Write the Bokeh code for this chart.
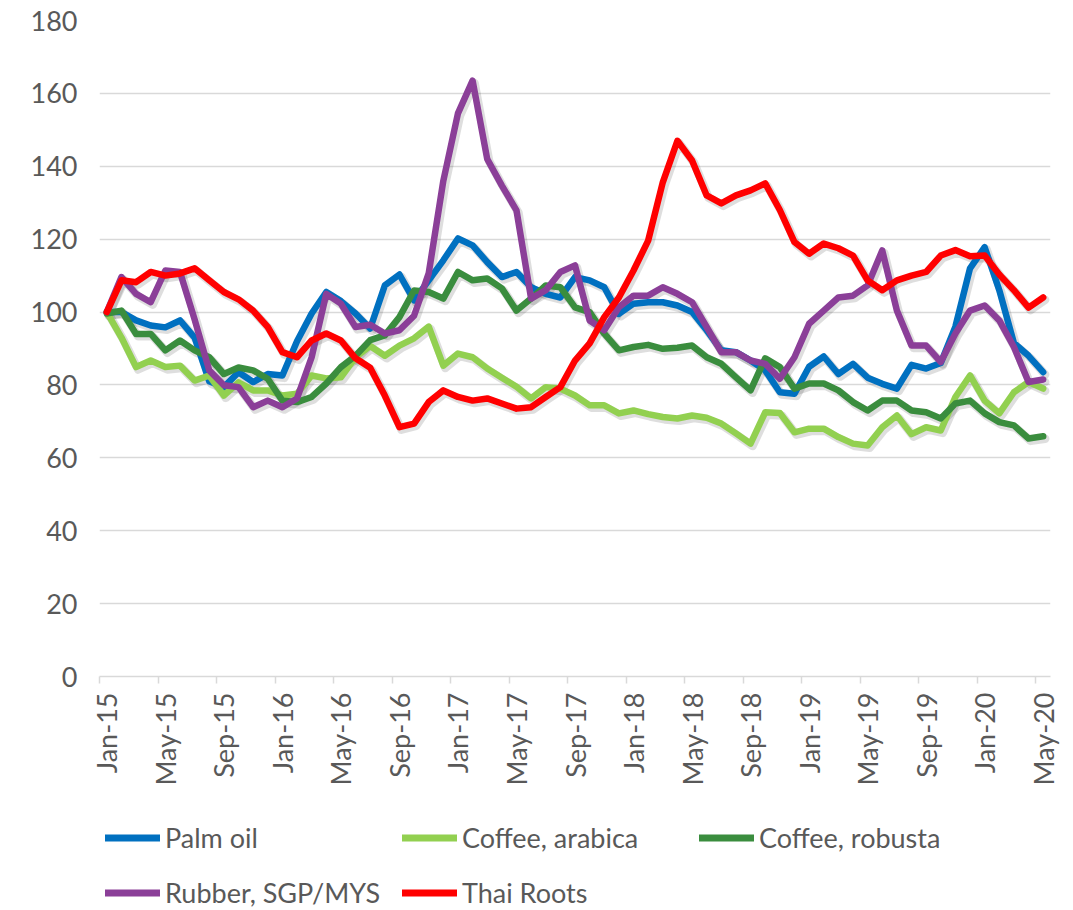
import math
from bokeh.plotting import figure
from bokeh.layouts import column
from bokeh.models import Range1d, FixedTicker, Legend, LegendItem, ColumnDataSource
from bokeh.embed import file_html
from bokeh.resources import INLINE

# ---- data (monthly index, Jan-15 .. May-20) ----
tick_labels = ["Jan-15", "May-15", "Sep-15", "Jan-16", "May-16", "Sep-16", "Jan-17", "May-17",
               "Sep-17", "Jan-18", "May-18", "Sep-18", "Jan-19", "May-19", "Sep-19", "Jan-20", "May-20"]
y_ticks = [0, 20, 40, 60, 80, 100, 120, 140, 160, 180]

palm_oil = [100, 100, 97.7, 96.3, 95.8, 97.7, 93, 81, 79.4, 83.5,
            80.8, 83, 82.6, 92, 99.6, 105.5, 103, 99.6, 95.5, 107.3,
            110.3, 103.2, 108.7, 114.2, 120.2, 118.3, 113.7, 109.6, 111, 106.8,
            105, 104, 109.6, 108.7, 106.8, 99.5, 102.3, 102.7, 102.7, 101.8,
            100, 95, 89.5, 89, 86.7, 84, 78, 77.6, 85, 87.8,
            83, 85.8, 82, 80.3, 79, 85.5, 84.5, 86, 96, 112,
            117.8, 106, 91.5, 88, 83.5]
coffee_arabica = [100, 93, 84.9, 86.7, 84.9, 85.3, 81.2, 82.6, 77.1, 80.7,
                  78.5, 78.5, 77.1, 77.6, 82.6, 81.8, 82.1, 87.6, 90.7, 88,
                  90.8, 92.8, 96, 85.3, 88.6, 87.6, 84.5, 82, 79.5, 76.3,
                  79.4, 79, 77.1, 74.4, 74.4, 72.2, 73, 72, 71.2, 70.8,
                  71.6, 71, 69.4, 66.7, 63.9, 72.5, 72.3, 67, 68, 68,
                  65.7, 63.9, 63.4, 68.4, 71.6, 66.5, 68.4, 67.5, 76.7, 82.6,
                  75.7, 72.2, 78, 80.8, 79]
coffee_robusta = [99.6, 100.4, 94, 94, 89.5, 92.2, 89.5, 87.6, 83, 84.8,
                  84, 81.7, 75.7, 75.3, 76.7, 80.4, 84.9, 88, 92.3, 93.6,
                  98.6, 105.9, 105.5, 103.7, 111, 108.7, 109.2, 106.5, 100.4, 103.7,
                  107.3, 106.8, 101.3, 100, 94.1, 89.5, 90.4, 91, 89.9, 90.2,
                  90.8, 87.6, 85.8, 82.1, 78.5, 87.3, 84.9, 79, 80.4, 80.4,
                  78.5, 75.3, 73, 75.7, 75.7, 73, 72.5, 70.8, 74.9, 75.7,
                  72.2, 69.8, 68.9, 65.3, 65.9]
rubber = [100, 109.6, 105, 102.7, 111.4, 111, 98, 84, 79.9, 79.4,
          73.9, 75.7, 73.9, 76.3, 87.6, 105, 102.3, 95.9, 96.5, 94.1,
          95, 99, 110.6, 136, 154.5, 163.5, 142, 134.7, 127.9, 103.7,
          106, 111, 112.8, 97.7, 95, 101.3, 104.5, 104.5, 106.8, 105,
          102.7, 95.9, 89, 89, 86.7, 85.8, 81.7, 87.6, 96.8, 100.4,
          104, 104.5, 107.3, 116.9, 100.4, 90.8, 90.8, 86.3, 94.1, 100.4,
          101.8, 97.7, 90.4, 80.8, 81.5]
thai_roots = [100, 108.7, 108.2, 111, 110, 110.6, 112, 108.7, 105.5, 103.5,
              100.4, 95.9, 89, 87.6, 92.2, 94.1, 92.2, 87.3, 84.7, 77.1,
              68.4, 69.4, 75.3, 78.5, 76.7, 75.7, 76.3, 74.9, 73.5, 73.9,
              76.7, 79.4, 86.7, 91.4, 98.6, 104, 111.4, 119.6, 135.6, 147,
              141.6, 132, 129.8, 132, 133.4, 135.3, 128, 119.2, 116, 118.8,
              117.5, 115.5, 108.7, 106, 108.7, 110, 111, 115.5, 117, 115.3,
              115.5, 110.3, 106, 101.2, 104]

series_names = ["Palm oil", "Coffee, arabica", "Coffee, robusta", "Rubber, SGP/MYS", "Thai Roots"]
series_values = [palm_oil, coffee_arabica, coffee_robusta, rubber, thai_roots]
series_colors = ["#0070C0", "#92D050", "#3A8D3E", "#8B3F98", "#FF0000"]

n = len(palm_oil)
x = list(range(n))
tick_pos = list(range(0, n, 4))
boundary_ticks = [t - 0.5 for t in tick_pos]

FONT = "Lato"
TXT = "#595959"
GRID = "#D9D9D9"
FS = "27px"

p = figure(width=1073, height=806, output_backend="svg", toolbar_location=None,
           x_range=Range1d(-0.5, n - 0.5), y_range=Range1d(0, 180),
           min_border_left=99, min_border_right=23, min_border_top=20, min_border_bottom=130)
p.outline_line_color = None
p.background_fill_color = "white"
p.border_fill_color = "white"

p.xgrid.visible = False
p.ygrid.grid_line_color = GRID
p.ygrid.grid_line_width = 1.5

p.yaxis.ticker = FixedTicker(ticks=y_ticks)
p.yaxis.axis_line_color = None
p.yaxis.major_tick_line_color = None
p.yaxis.minor_tick_line_color = None
p.yaxis.major_label_standoff = 16
p.yaxis.major_label_text_font = FONT
p.yaxis.major_label_text_font_size = FS
p.yaxis.major_label_text_color = TXT

p.xaxis.ticker = FixedTicker(ticks=tick_pos, minor_ticks=boundary_ticks)
p.xaxis.major_label_overrides = {t: lab for t, lab in zip(tick_pos, tick_labels)}
p.xaxis.major_label_orientation = math.pi / 2
p.xaxis.axis_line_color = GRID
p.xaxis.axis_line_width = 1.5
p.xaxis.major_tick_line_color = None
p.xaxis.major_tick_out = 0
p.xaxis.major_tick_in = 0
p.xaxis.minor_tick_line_color = GRID
p.xaxis.minor_tick_line_width = 1.5
p.xaxis.minor_tick_out = 7
p.xaxis.minor_tick_in = 0
p.xaxis.major_label_standoff = 9
p.xaxis.major_label_text_font = FONT
p.xaxis.major_label_text_font_size = FS
p.xaxis.major_label_text_color = TXT

# soft drop shadows under the lines (offset a couple of pixels down-right)
dx = 2.0 / (951 / n)
dy = 2.4 / (656 / 180)
for vals in series_values:
    p.line(x=[v + dx for v in x], y=[v - dy for v in vals], line_color="black",
           line_alpha=0.13, line_width=8.5, line_join="round", line_cap="round")

for name, vals, col in zip(series_names, series_values, series_colors):
    src = ColumnDataSource(dict(x=x, y=vals))
    p.line(x="x", y="y", source=src, line_color=col, line_width=6.5,
           line_join="round", line_cap="round")

# ---- legend strip (its series lie outside this strip's visible range) ----
pl = figure(width=1073, height=104, output_backend="svg", toolbar_location=None,
            x_range=Range1d(0, 1), y_range=Range1d(0, 1),
            min_border_left=0, min_border_right=0, min_border_top=0, min_border_bottom=0)
pl.axis.visible = False
pl.grid.visible = False
pl.outline_line_color = None
items = []
for name, vals, col in zip(series_names, series_values, series_colors):
    r = pl.line(x=x, y=vals, line_color=col, line_width=7, line_cap="round")
    items.append(LegendItem(label=name, renderers=[r]))

legend = Legend(items=items, orientation="horizontal", ncols=3, location=(6, -10),
                glyph_width=55, glyph_height=55, label_width=237, label_height=55,
                label_standoff=5, spacing=0, padding=0, margin=0,
                border_line_alpha=0, background_fill_alpha=0,
                label_text_font=FONT, label_text_font_size=FS, label_text_color=TXT)
pl.add_layout(legend)

open("out.html", "w").write(file_html(column(p, pl), INLINE))
